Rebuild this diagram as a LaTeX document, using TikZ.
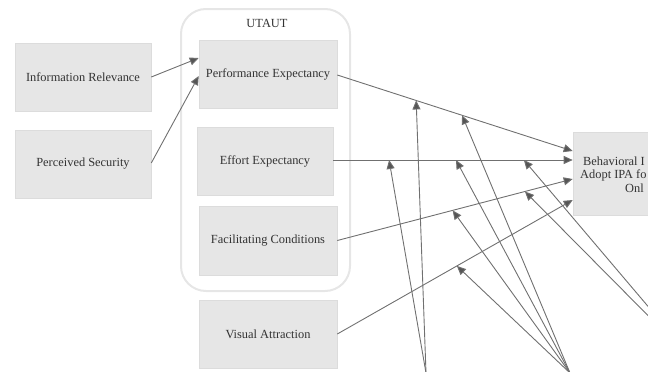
\documentclass[tikz,border=0pt]{standalone}
\usepackage{fontspec}
\setmainfont{Liberation Serif}
\usetikzlibrary{arrows.meta}
\definecolor{boxfill}{HTML}{E6E6E6}
\definecolor{boxline}{HTML}{DCDCDC}
\definecolor{framec}{HTML}{E6E6E6}
\definecolor{ink}{HTML}{333333}
\definecolor{wire}{HTML}{707070}
\definecolor{tipc}{HTML}{555555}

\begin{document}
\begin{tikzpicture}[x=1pt,y=-1pt,
  construct/.style={draw=boxline, line width=0.6pt, fill=boxfill,
    minimum width=#1, minimum height=68pt, inner sep=0pt,
    text=ink, font=\fontsize{12.4}{14}\selectfont},
  construct/.default=137pt,
  captext/.style={inner sep=0pt, text=ink, font=\fontsize{12.4}{14}\selectfont},
  link/.style={draw=wire, line width=0.9pt,
    -{Triangle[length=9pt,width=8pt,fill=tipc]}}]

\useasboundingbox (0,0) rectangle (648,372);
\clip (0,0) rectangle (648,372);

% UTAUT group frame
\draw[framec, line width=2pt, rounded corners=25pt] (181,9) rectangle (350,291);
\node[captext] (utaut) at (267,23) {UTAUT};

% constructs
\node[construct=136pt] (ir) at (83,77)   {Information Relevance};
\node[construct=136pt] (ps) at (83,164)  {Perceived Security};
\node[construct=138pt] (pe) at (268,74)  {Performance Expectancy};
\node[construct=136pt] (ee) at (265,161) {Effort Expectancy};
\node[construct=138pt, minimum height=69pt] (fc) at (268,240.5) {Facilitating Conditions};
\node[construct=138pt] (va) at (268,334) {Visual Attraction};

% outcome
\node[construct=130pt, minimum height=83pt] (bi) at (638,173.5) {};
\node[captext, anchor=base west] (bi1) at (583,165)   {Behavioral I};
\node[captext, anchor=base west] (bi2) at (580,178.5) {Adopt IPA fo};
\node[captext, anchor=base west] (bi3) at (625,192)   {Onl};

% antecedents of performance expectancy
\draw[link] (ir.east) -- ([yshift=16pt]pe.west);
\draw[link] ([yshift=1pt]ps.east) -- ([yshift=-2pt]pe.west);

% main paths
\draw[link] ([yshift=-1pt]pe.east) -- ([yshift=22.5pt]bi.west);
\draw[link] ([yshift=1pt]ee.east) -- ([yshift=13.5pt]bi.west);
\draw[link] (fc.east) -- ([yshift=-5.5pt]bi.west);
\draw[link] (va.east) -- ([yshift=-26.5pt]bi.west);

% points on the main paths hit by moderators
\path ([yshift=-1pt]pe.east) -- ([yshift=22.5pt]bi.west)
  coordinate[pos=0.335] (pe1) coordinate[pos=0.53] (pe2);
\path ([yshift=1pt]ee.east) -- ([yshift=13.5pt]bi.west)
  coordinate[pos=0.233] (ee1) coordinate[pos=0.5125] (ee2) coordinate[pos=0.796] (ee3);
\path (fc.east) -- ([yshift=-5.5pt]bi.west)
  coordinate[pos=0.49] (fc2) coordinate[pos=0.797] (fc3);
\path (va.east) -- ([yshift=-26.5pt]bi.west)
  coordinate[pos=0.508] (va2);

% moderator sources below
\coordinate (m1) at (426,373);
\coordinate (m2) at (570,373);
\coordinate (m3) at (702,370);

\draw[link] (m1) -- (pe1);
\draw[link] (m1) -- (ee1);
\draw[link] (m2) -- (pe2);
\draw[link] (m2) -- (ee2);
\draw[link] (m2) -- (fc2);
\draw[link] (m2) -- (va2);
\draw[link] (m3) -- (ee3);
\draw[link] (m3) -- (fc3);
\end{tikzpicture}
\end{document}
